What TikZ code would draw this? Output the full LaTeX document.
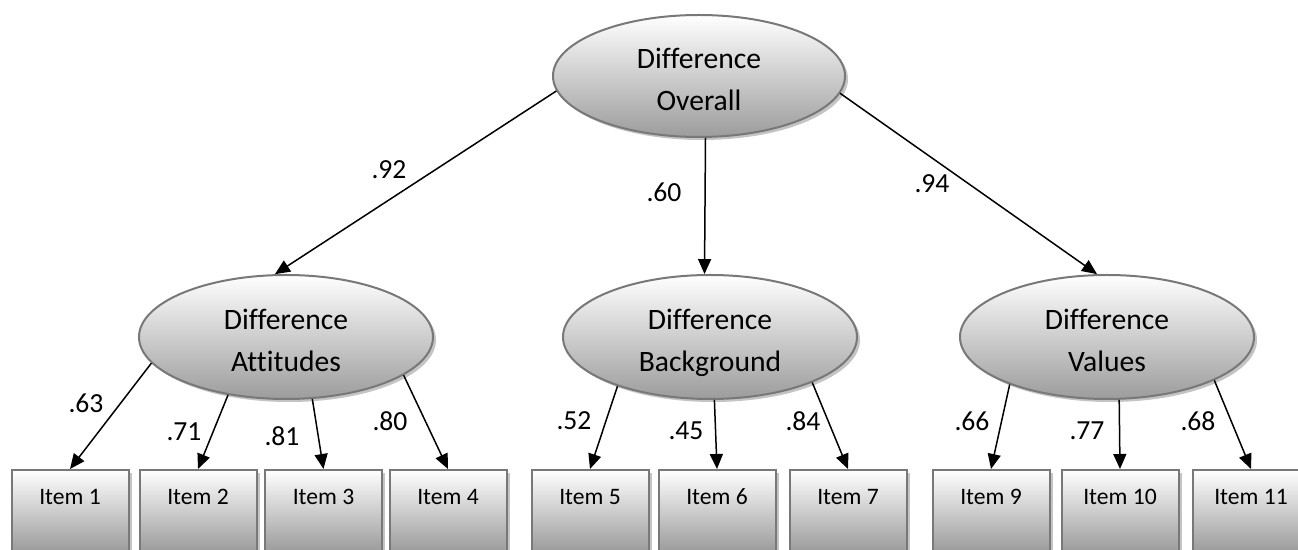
\documentclass[tikz,border=0pt]{standalone}
\usepackage{fontspec}
\setmainfont{Carlito}[Ligatures=NoCommon]
\usetikzlibrary{shapes.geometric,shadows,arrows.meta}
\definecolor{bord}{HTML}{787878}
\definecolor{shd}{HTML}{C4C4C4}
\definecolor{grayB}{HTML}{9C9C9C}
\begin{document}
\begin{tikzpicture}[x=0.5pt,y=-0.5pt,
  latent/.style={ellipse, draw=bord, line width=1pt, minimum width=147pt,
    minimum height=62pt, inner sep=0pt, top color=white, bottom color=grayB,
    align=center, font=\fontsize{14.8}{21}\selectfont,
    text height=34.5pt, text depth=0pt,
    drop shadow={shadow xshift=1.5pt, shadow yshift=-1.5pt, fill=shd, opacity=1}},
  itembox/.style={rectangle, draw=bord, line width=1pt, minimum width=58.5pt,
    inner xsep=0pt, inner ysep=0pt, text height=17.5pt, text depth=32.5pt,
    anchor=north, top color=white, bottom color=grayB!85!black,
    font=\fontsize{11.8}{14}\selectfont,
    drop shadow={shadow xshift=1.5pt, shadow yshift=-1.5pt, fill=shd, opacity=1}},
  arr/.style={-{Triangle[length=7.5pt,width=6.5pt]}, line width=0.75pt},
  lab/.style={font=\fontsize{13.8}{16}\selectfont, inner sep=0pt}]
\useasboundingbox (0,0) rectangle (1298,550);
\fill[white] (0,0) rectangle (1298,550);

\node[latent, minimum width=146pt, minimum height=61pt] (ov) at (699,76) {Difference\\Overall};
\node[latent] (att) at (286,337) {Difference\\Attitudes};
\node[latent] (bg) at (710,337) {Difference\\Background};
\node[latent] (val) at (1107,337) {Difference\\Values};

\node[itembox] (i1) at (70,469) {Item 1};
\node[itembox] (i2) at (198,469) {Item 2};
\node[itembox] (i3) at (323.5,469) {Item 3};
\node[itembox] (i4) at (448,469) {Item 4};
\node[itembox] (i5) at (590,469) {Item 5};
\node[itembox] (i6) at (717,469) {Item 6};
\node[itembox] (i7) at (848,469) {Item 7};
\node[itembox] (i9) at (991,469) {Item 9};
\node[itembox] (i10) at (1120,469) {Item 10};
\node[itembox] (i11) at (1251,469) {Item 11};

\draw[arr] (ov.186.7) -- (att.100);
\draw[arr] (ov.-84) -- (bg.95);
\draw[arr] (ov.353.4) -- (val.99);

\draw[arr] (att.191.6) -- (i1.north);
\draw[arr] (att.225) -- (i2.north);
\draw[arr] (att.293) -- (i3.north);
\draw[arr] (att.342.6) -- (i4.north);
\draw[arr] (bg.208.3) -- (i5.north);
\draw[arr] (bg.274.6) -- (i6.north);
\draw[arr] (bg.336) -- (i7.north);
\draw[arr] (val.206.1) -- (i9.north);
\draw[arr] (val.281) -- (i10.north);
\draw[arr] (val.338) -- (i11.north);

\node[lab] (l1) at (389,170) {.92};
\node[lab] (l2) at (664,192) {.60};
\node[lab] (l3) at (932,184) {.94};
\node[lab] (l4) at (86,403) {.63};
\node[lab] (l5) at (184,432) {.71};
\node[lab] (l6) at (282,436) {.81};
\node[lab] (l7) at (390,421) {.80};
\node[lab] (l8) at (574,421) {.52};
\node[lab] (l9) at (686,431) {.45};
\node[lab] (l10) at (803,421) {.84};
\node[lab] (l11) at (972,421) {.66};
\node[lab] (l12) at (1087,431) {.77};
\node[lab] (l13) at (1198,421) {.68};
\end{tikzpicture}
\end{document}
